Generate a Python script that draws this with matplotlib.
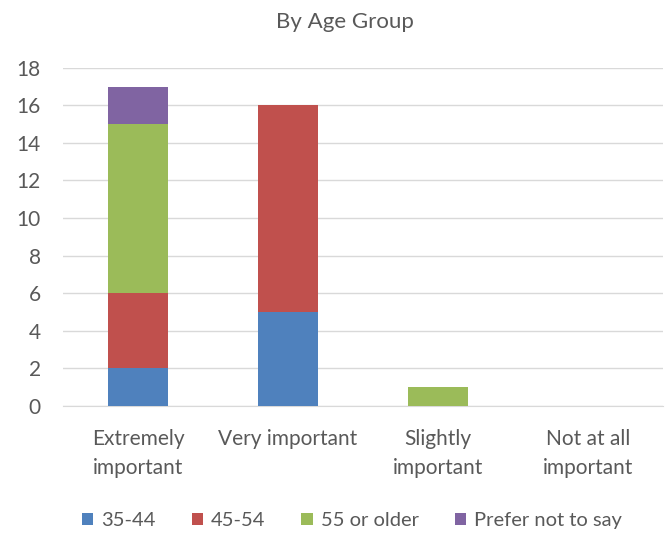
import matplotlib.pyplot as plt
import numpy as np

plt.rcParams['font.family'] = ['Lato', 'DejaVu Sans']

categories = ["Extremely\nimportant", "Very important", "Slightly\nimportant", "Not at all\nimportant"]
groups = ["35-44", "45-54", "55 or older", "Prefer not to say"]
age_35_44 = [2, 5, 0, 0]
age_45_54 = [4, 11, 0, 0]
age_55_plus = [9, 0, 1, 0]
no_answer = [2, 0, 0, 0]
colors = ["#4f81bd", "#c0504d", "#9bbb59", "#8064a2"]

fig = plt.figure(figsize=(6.7, 5.34), dpi=100)
ax = fig.add_axes([0.094, 0.24, 0.896, 0.633])

x = np.arange(len(categories))
bottom = np.zeros(len(categories))
for name, vals, c in zip(groups, [age_35_44, age_45_54, age_55_plus, no_answer], colors):
    ax.bar(x, vals, 0.4, bottom=bottom, color=c, label=name, zorder=3)
    bottom += np.array(vals)

ax.set_xlim(-0.5, 3.5)
ax.set_ylim(0, 18)
ax.set_yticks(range(0, 19, 2))
ax.yaxis.grid(True, color="#d9d9d9", linewidth=1, zorder=0)
ax.set_xticks(x)
ax.set_xticklabels(categories, fontsize=15, color="#595959", linespacing=1.55)
ax.tick_params(axis="y", labelsize=15, labelcolor="#595959", length=0, pad=16)
ax.tick_params(axis="x", length=0, pad=17)
for s in ["top", "right", "left"]:
    ax.spines[s].set_visible(False)
ax.spines["bottom"].set_color("#d9d9d9")

fig.text(0.515, 0.958, "By Age Group", ha="center", va="center", fontsize=16, color="#595959")

fig.legend(loc="center", bbox_to_anchor=(0.525, 0.025), ncol=4, frameon=False,
           fontsize=14.5, labelcolor="#595959", handlelength=0.55, handleheight=0.55,
           handletextpad=0.4, columnspacing=1.8)

fig.savefig("out.png", dpi=100)
